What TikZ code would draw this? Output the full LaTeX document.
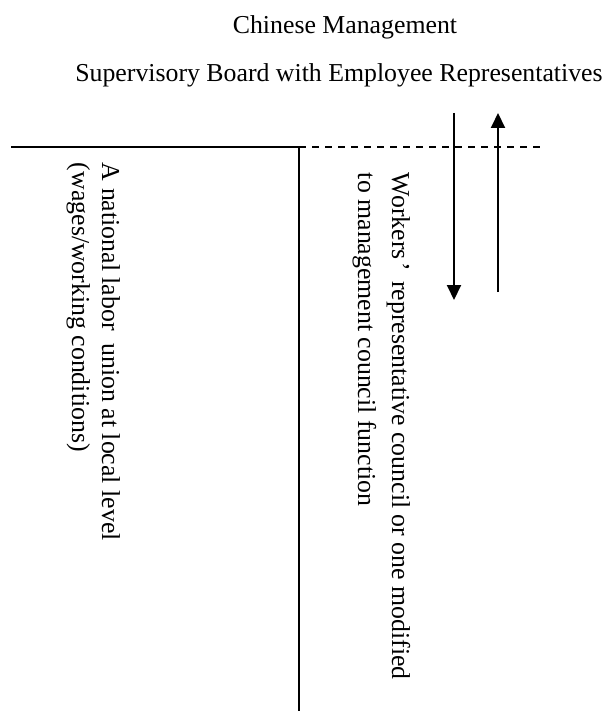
\documentclass[tikz,border=0pt]{standalone}
\usepackage{fontspec}
\setmainfont{Liberation Serif}
\usetikzlibrary{arrows.meta}
\begin{document}
\begin{tikzpicture}[x=1pt,y=-1pt,
  lbl/.style={inner sep=0pt, outer sep=0pt, font=\fontsize{25.8}{30}\selectfont},
  vlbl/.style={lbl, rotate=-90, anchor=base west},
  solidline/.style={line width=2.4pt},
  dashline/.style={line width=1.3pt, dash pattern=on 7pt off 6pt},
  flow/.style={line width=2pt, -{Triangle[length=15pt,width=14pt]}}]
\useasboundingbox (0,0) rectangle (611,711);
% titles
\node[lbl, anchor=base] (mgmt) at (345,34) {Chinese Management};
\node[lbl, anchor=base] (board) at (339,82) {Supervisory Board with Employee Representatives};
% frame lines
\coordinate (hl) at (11,147);
\coordinate (corner) at (299,147);
\coordinate (vb) at (299,711);
\coordinate (de) at (543,147);
\draw[solidline] (hl) -- (corner) -- (vb);
\draw[dashline] (corner) -- (de);
% arrows
\coordinate (d1) at (454,113);
\coordinate (d2) at (454,300);
\coordinate (u1) at (498,292);
\coordinate (u2) at (498,113);
\draw[flow] (d1) -- (d2);
\draw[flow] (u1) -- (u2);
% vertical texts
\node[vlbl] (unionA) at (102,163) {A national labor\hspace{0.25em} union at local level};
\node[vlbl] (unionB) at (72,163) {(wages/working conditions)};
\node[vlbl] (workA) at (392,173) {Workers\hspace{0.1em}’\hspace{0.15em} representative council or one modified};
\node[vlbl] (workB) at (358,173) {to management council function};
\end{tikzpicture}
\end{document}
